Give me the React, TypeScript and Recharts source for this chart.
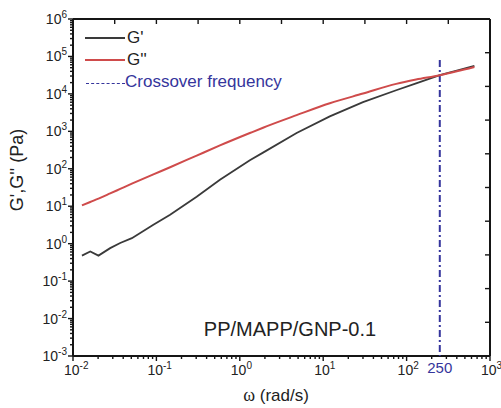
import React from 'react';
import { LineChart, Line, XAxis, YAxis, ReferenceLine, ReferenceDot, Legend } from 'recharts';

// angular frequency (rad/s) and moduli (Pa)
const freq = [0.0128, 0.0161, 0.0202, 0.0279, 0.0368, 0.0508, 0.092, 0.146, 0.304, 0.578, 1.32, 1.9, 4.8, 12, 30, 75, 130, 250, 400, 650];
const gPrime = [0.48, 0.62, 0.48, 0.76, 1.04, 1.4, 3.2, 5.9, 18, 51, 170, 270, 900, 2500, 6000, 12500, 19000, 31500, 42000, 56000];
const gDoublePrime = [10.5, 13, 16, 22, 29, 40, 71, 110, 225, 420, 900, 1250, 2700, 5600, 10200, 18500, 24100, 31500, 40000, 52500];

const crossover = 250;
const sampleName = 'PP/MAPP/GNP-0.1';

const xDecades = [0.01, 0.1, 1, 10, 100, 1000];
const yDecades = [1e-3, 1e-2, 1e-1, 1, 10, 1e2, 1e3, 1e4, 1e5, 1e6];
const X_MIN = 0.01;
const X_MAX = 1000;
const Y_MIN = 1e-3;
const Y_MAX = 1e6;

const FONT = '"Liberation Sans", Arial, sans-serif';
const AXIS = '#151515';
const BLACK_LINE = '#3a3a3a';
const RED_LINE = '#cf4b4b';
const BLUE = '#35359c';

const data = freq.map((w, i) => ({ w, gp: gPrime[i], gpp: gDoublePrime[i] }));

// decades + 2..9 minor ticks
const withMinors = (decades: number[]) => {
  const out: number[] = [];
  decades.forEach((d, i) => {
    out.push(d);
    if (i < decades.length - 1) for (let m = 2; m <= 9; m++) out.push(d * m);
  });
  return out;
};
const xTicks = withMinors(xDecades);
const yTicks = withMinors(yDecades);
const topTicks = Array.from({ length: 11 }, (_, k) => Math.pow(10, -2 + 0.5 * k));
const rightTicks = Array.from({ length: 11 }, (_, k) => Math.pow(10, -3 + 0.9 * k));

const isDecade = (v: number) => Math.abs(Math.log10(v) - Math.round(Math.log10(v))) < 1e-6;
const expOf = (v: number) => String(Math.round(Math.log10(v)));

// tick labels only, tick marks are drawn as reference lines below
const BottomLabel = ({ x, y, payload }: any) => (
  <text x={x - 9} y={y + 19} textAnchor="start" fontSize={14} fill="#222" fontFamily={FONT}>
    10<tspan dy={-6} fontSize={10}>{expOf(payload.value)}</tspan>
  </text>
);

const LeftLabel = ({ x, y, payload }: any) => (
  <text x={x - 6} y={y + 5} textAnchor="end" fontSize={14} fill="#222" fontFamily={FONT}>
    10<tspan dy={-6} fontSize={10}>{expOf(payload.value)}</tspan>
  </text>
);

// short tick mark on one side of the frame, built from the reference line end points
const tickShape = (side: string, len: number) => (p: any) => {
  const { x1, y1, x2, y2 } = p;
  let d = '';
  if (side === 'bottom') d = `M${x1},${Math.max(y1, y2)}v${len}`;
  if (side === 'top') d = `M${x1},${Math.min(y1, y2)}v${len}`;
  if (side === 'left') d = `M${Math.min(x1, x2)},${y1}h${-len}`;
  if (side === 'right') d = `M${Math.max(x1, x2)},${y1}h${-len}`;
  return <path d={d} stroke={AXIS} strokeWidth={1.4} fill="none" />;
};

const LegendBox = ({ payload }: any) => (
  <div style={{ fontFamily: FONT, fontSize: 17, lineHeight: '22px', color: '#222' }}>
    {(payload || []).map((p: any) => (
      <div key={p.value} style={{ display: 'flex', alignItems: 'center', height: 22 }}>
        <div style={{ width: 40, height: 0, borderTop: `2px solid ${p.color}` }} />
        <span style={{ marginLeft: 2 }}>{p.value}</span>
      </div>
    ))}
    <div style={{ display: 'flex', alignItems: 'center', height: 22, color: BLUE }}>
      <div style={{ width: 39, height: 0, marginLeft: 1, marginTop: 2, borderTop: `1.5px dashed ${BLUE}` }} />
      <span>Crossover frequency</span>
    </div>
  </div>
);

const titleStyle: React.CSSProperties = { position: 'absolute', fontFamily: FONT, fontSize: 18, color: '#222', whiteSpace: 'nowrap' };

export default function App() {
  return (
    <div style={{ position: 'absolute', left: 0, top: 0, width: 501, height: 408 }}>
      <LineChart width={501} height={408} data={data} margin={{ top: 19, right: 11, left: 0, bottom: 0 }}>
        <XAxis
          dataKey="w"
          type="number"
          scale="log"
          domain={[X_MIN, X_MAX]}
          ticks={xDecades}
          interval={0}
          height={52}
          tickSize={0}
          tickMargin={0}
          tickLine={false}
          axisLine={false}
          tick={<BottomLabel />}
        />
        <YAxis
          type="number"
          scale="log"
          domain={[Y_MIN, Y_MAX]}
          ticks={yDecades}
          interval={0}
          width={73}
          tickSize={0}
          tickMargin={0}
          tickLine={false}
          axisLine={false}
          tick={<LeftLabel />}
        />

        {/* tick marks */}
        {xTicks.map((v) => (
          <ReferenceLine key={`b${v}`} x={v} ifOverflow="visible" shape={tickShape('bottom', isDecade(v) ? 5 : 3)} />
        ))}
        {topTicks.map((v) => (
          <ReferenceLine key={`t${v}`} x={v} ifOverflow="visible" shape={tickShape('top', 5)} />
        ))}
        {yTicks.map((v) => (
          <ReferenceLine key={`l${v}`} y={v} ifOverflow="visible" shape={tickShape('left', isDecade(v) ? 5 : 3)} />
        ))}
        {rightTicks.map((v) => (
          <ReferenceLine key={`r${v}`} y={v} ifOverflow="visible" shape={tickShape('right', 5)} />
        ))}

        {/* frame */}
        <ReferenceLine x={X_MIN} ifOverflow="visible" stroke={AXIS} strokeWidth={2} />
        <ReferenceLine x={X_MAX} ifOverflow="visible" stroke={AXIS} strokeWidth={2} />
        <ReferenceLine y={Y_MIN} ifOverflow="visible" stroke={AXIS} strokeWidth={2} />
        <ReferenceLine y={Y_MAX} ifOverflow="visible" stroke={AXIS} strokeWidth={2} />

        <Legend
          layout="horizontal"
          verticalAlign="middle"
          align="center"
          content={<LegendBox />}
          wrapperStyle={{ left: 85, top: 27, width: 'auto' }}
        />
        <ReferenceLine
          segment={[{ x: crossover, y: 8e4 }, { x: crossover, y: Y_MIN }]}
          stroke={BLUE}
          strokeWidth={2}
          strokeDasharray="7 3 2 3"
          label={{ value: String(crossover), position: 'bottom', offset: 6, fill: BLUE, fontSize: 15, fontFamily: FONT }}
        />
        <ReferenceDot
          x={4}
          y={0.0053}
          r={0}
          fill="none"
          stroke="none"
          label={{ value: sampleName, position: 'center', fill: '#222', fontSize: 20, fontFamily: FONT }}
        />
        <Line name="G'" dataKey="gp" stroke={BLACK_LINE} strokeWidth={1.8} dot={false} type="linear" isAnimationActive={false} />
        <Line name="G''" dataKey="gpp" stroke={RED_LINE} strokeWidth={2} dot={false} type="monotone" isAnimationActive={false} />
      </LineChart>
      <div style={{ ...titleStyle, left: 17, top: 170, transform: 'translate(-50%, -50%) rotate(-90deg)' }}>G',G'' (Pa)</div>
      <div style={{ ...titleStyle, left: 276, top: 395, fontSize: 17, transform: 'translate(-50%, -50%)' }}>
        <span style={{ fontFamily: '"Liberation Serif", serif', fontSize: 18 }}>ω</span> (rad/s)
      </div>
    </div>
  );
}
